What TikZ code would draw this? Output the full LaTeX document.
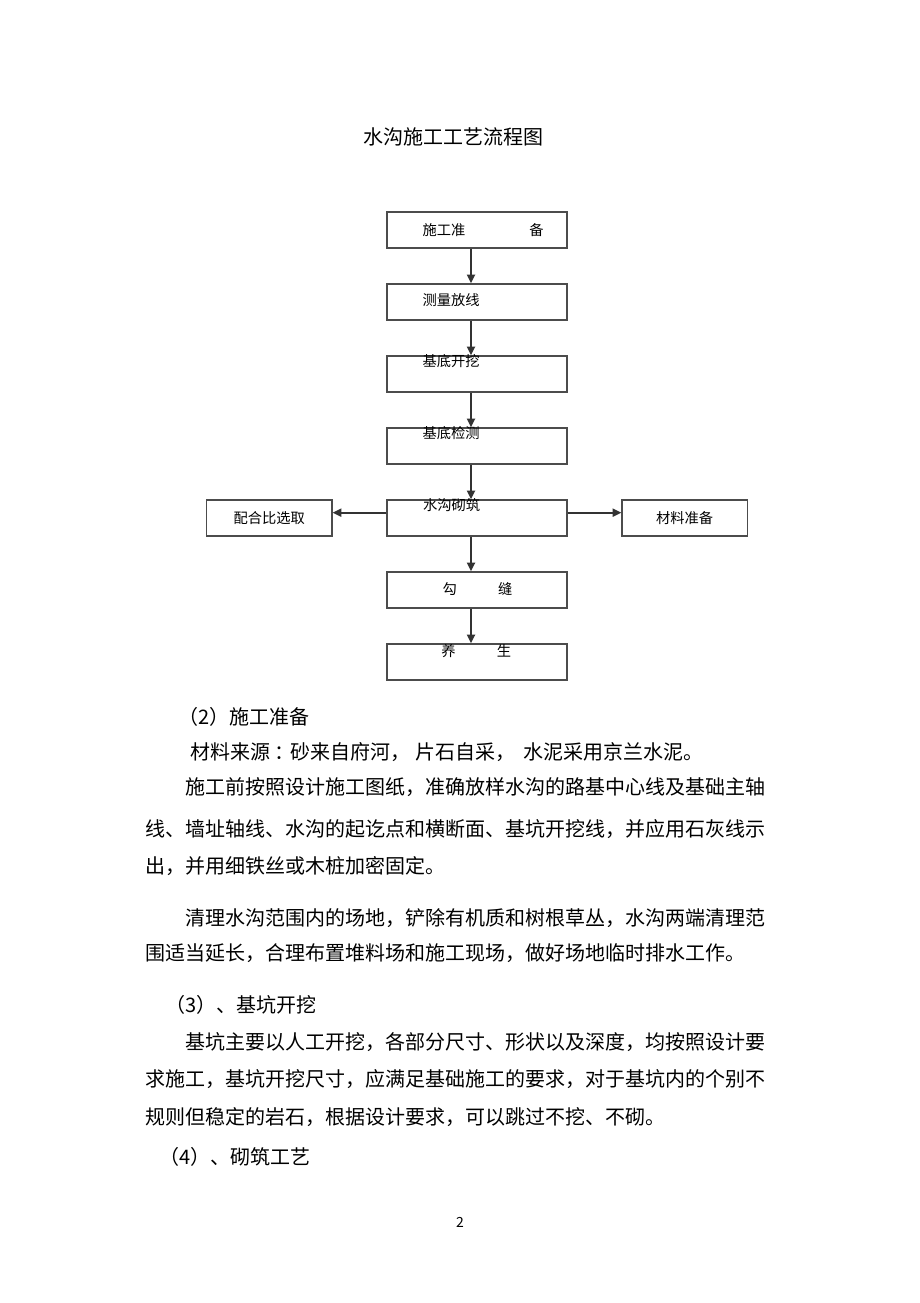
\documentclass[tikz,border=0pt]{standalone}
\usepackage{fontspec}
\setmainfont{Noto Sans CJK SC}
\usetikzlibrary{positioning,arrows.meta}

\begin{document}
\begin{tikzpicture}[x=0.75pt, y=-0.75pt,
    box/.style={draw=black!70, line width=1pt, minimum width=135pt, minimum height=27pt, inner sep=0pt},
    sidebox/.style={box, minimum width=94pt, font=\fontsize{10.7pt}{12pt}\selectfont},
    flowtext/.style={anchor=west, inner sep=0pt, font=\fontsize{10.7pt}{12pt}\selectfont},
    bodytext/.style={anchor=west, inner sep=0pt, font=\fontsize{15pt}{18pt}\selectfont},
    flowarrow/.style={draw=black!80, line width=1.4pt, -{Triangle[length=6.5pt, width=6pt]}},
    node distance=26pt]
    % Page
    \useasboundingbox (0,0) rectangle (920,1303);
    \fill[white] (0,0) rectangle (920,1303);

    % Title
    \node[bodytext, anchor=center] (title) at (453,137) {水沟施工工艺流程图};

    % Main steps
    \node[box] (s1) at (477,230) {};
    \node[box, below=of s1] (s2) {};
    \node[box, below=of s2] (s3) {};
    \node[box, below=of s3] (s4) {};
    \node[box, below=of s4] (s5) {};
    \node[box, below=of s5] (s6) {};
    \node[box, below=of s6] (s7) {};

    % Side steps
    \node[sidebox, left=40.25pt of s5] (mix) {配合比选取};
    \node[sidebox, right=40.25pt of s5] (mat) {材料准备};

    % Step labels
    \node[flowtext] (l1) at ([xshift=27pt]s1.west) {施工准\hspace{48pt}备};
    \node[flowtext] (l2) at ([xshift=27pt, yshift=1.5pt]s2.west) {测量放线};
    \node[flowtext] (l3) at ([xshift=27pt, yshift=9.5pt]s3.west) {基底开挖};
    \node[flowtext] (l4) at ([xshift=27pt, yshift=9.5pt]s4.west) {基底检测};
    \node[flowtext] (l5) at ([xshift=27.3pt, yshift=9.5pt]s5.west) {水沟砌筑};
    \node[flowtext] (l6) at ([xshift=42pt, yshift=0.75pt]s6.west) {勾\hspace{31pt}缝};
    \node[flowtext] (l7) at ([xshift=41pt, yshift=8pt]s7.west) {养\hspace{31pt}生};

    % Arrows
    \foreach \a/\b in {s1/s2, s2/s3, s3/s4, s4/s5, s5/s6, s6/s7}
        \draw[flowarrow] ([xshift=-4.5pt]\a.south) -- ([xshift=-4.5pt]\b.north);
    \draw[flowarrow] ([yshift=4pt]s5.west) -- ([yshift=4pt]mix.east);
    \draw[flowarrow] ([yshift=4pt]s5.east) -- ([yshift=4pt]mat.west);

    % Body text
    \node[bodytext] (h2) at (178,717) {（2）施工准备};
    \node[bodytext] (p1) at (190,752) {材料来源\hspace{3pt}：\hspace{-3pt}砂来自府河，\hspace{4pt}片石自采，\hspace{6pt}水泥采用京兰水泥。};
    \node[bodytext] (p2a) at (185,787) {施工前按照设计施工图纸，准确放样水沟的路基中心线及基础主轴};
    \node[bodytext] (p2b) at (145,829) {线、墙址轴线、水沟的起讫点和横断面、基坑开挖线，并应用石灰线示};
    \node[bodytext] (p2c) at (145,866) {出，并用细铁丝或木桩加密固定。};
    \node[bodytext] (p3a) at (185,918) {清理水沟范围内的场地，铲除有机质和树根草丛，水沟两端清理范};
    \node[bodytext] (p3b) at (145,953) {围适当延长，合理布置堆料场和施工现场，做好场地临时排水工作。};
    \node[bodytext] (h3) at (165,1005) {（3）、基坑开挖};
    \node[bodytext] (p4a) at (185,1042) {基坑主要以人工开挖，各部分尺寸、形状以及深度，均按照设计要};
    \node[bodytext] (p4b) at (145,1079) {求施工，基坑开挖尺寸，应满足基础施工的要求，对于基坑内的个别不};
    \node[bodytext] (p4c) at (145,1117) {规则但稳定的岩石，根据设计要求，可以跳过不挖、不砌。};
    \node[bodytext] (h4) at (159,1157) {（4）、砌筑工艺};

    % Page number
    \node[inner sep=0pt, font=\fontsize{10.5pt}{12pt}\selectfont] (pg) at (460,1222) {2};
\end{tikzpicture}
\end{document}
